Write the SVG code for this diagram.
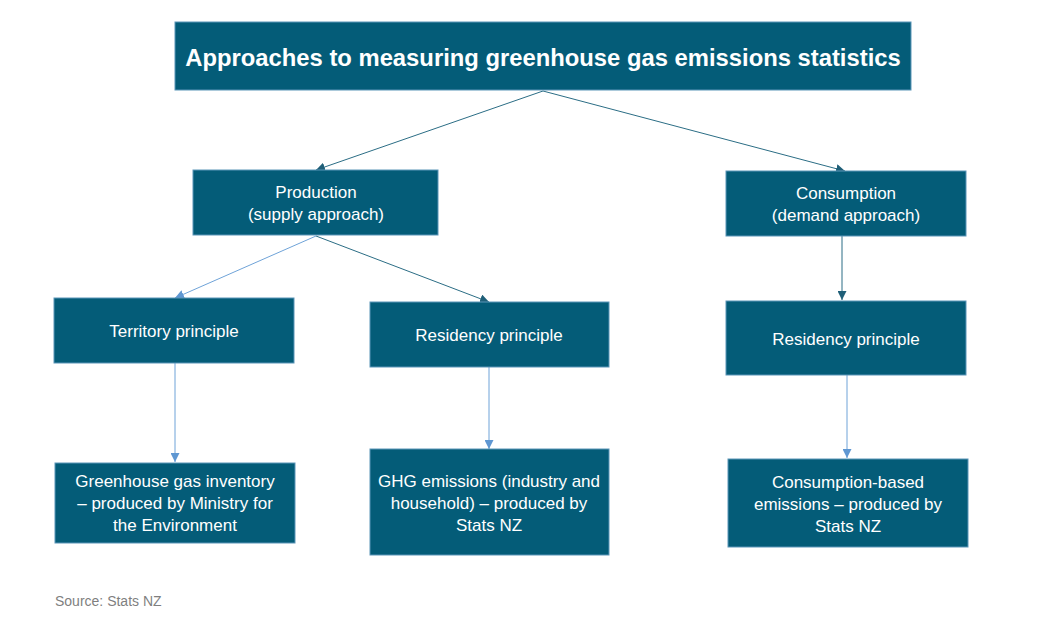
<svg xmlns="http://www.w3.org/2000/svg" width="1049" height="623" viewBox="0 0 1049 623">
<defs>
<style>
.box{fill:#045c78;stroke:#5b95b8;stroke-width:1}
.t{font-family:"Liberation Sans",Arial,sans-serif;font-size:17px;fill:#ffffff;text-anchor:middle;dominant-baseline:central}
.title{font-family:"Liberation Sans",Arial,sans-serif;font-size:23.8px;font-weight:bold;fill:#ffffff;text-anchor:middle;dominant-baseline:central}
.dk{stroke:#2b6d85;stroke-width:1;fill:none;marker-end:url(#ad)}
.lt{stroke:#6fa3d8;stroke-width:1;fill:none;marker-end:url(#al)}
</style>
<marker id="ad" viewBox="0 0 10 10" refX="10" refY="5" markerWidth="9" markerHeight="9" markerUnits="userSpaceOnUse" orient="auto"><path d="M0,0L10,5L0,10z" fill="#1f5f78"/></marker>
<marker id="al" viewBox="0 0 10 10" refX="10" refY="5" markerWidth="9" markerHeight="9" markerUnits="userSpaceOnUse" orient="auto"><path d="M0,0L10,5L0,10z" fill="#5f97d2"/></marker>
</defs>
<rect width="1049" height="623" fill="#ffffff"/>
<g id="connectors">
<line class="dk" x1="543" y1="91" x2="316" y2="170"/>
<line class="dk" x1="543" y1="91" x2="845" y2="171"/>
<line class="lt" x1="316" y1="236" x2="175" y2="298"/>
<line class="dk" x1="316" y1="236" x2="489" y2="302"/>
<line class="dk" x1="842" y1="236" x2="842" y2="300"/>
<line class="lt" x1="175" y1="363" x2="175" y2="462"/>
<line class="lt" x1="489" y1="367" x2="489" y2="449"/>
<line class="lt" x1="847" y1="375" x2="847" y2="458"/>
</g>
<g id="title"><rect class="box" x="175" y="22" width="736" height="68"/><text class="title" x="543" y="57">Approaches to measuring greenhouse gas emissions statistics</text></g>
<g id="production"><rect class="box" x="193" y="170" width="245" height="65"/><text class="t" x="316" y="192">Production</text><text class="t" x="316" y="214">(supply approach)</text></g>
<g id="consumption"><rect class="box" x="726" y="171" width="240" height="65"/><text class="t" x="846" y="193">Consumption</text><text class="t" x="846" y="215">(demand approach)</text></g>
<g id="territory"><rect class="box" x="54" y="298" width="240" height="65"/><text class="t" x="174" y="331">Territory principle</text></g>
<g id="residency-prod"><rect class="box" x="370" y="302" width="239" height="65"/><text class="t" x="489" y="335">Residency principle</text></g>
<g id="residency-cons"><rect class="box" x="726" y="301" width="240" height="74"/><text class="t" x="846" y="339">Residency principle</text></g>
<g id="inventory"><rect class="box" x="55" y="463" width="240" height="80"/><text class="t" x="175" y="481">Greenhouse gas inventory</text><text class="t" x="175" y="503">– produced by Ministry for</text><text class="t" x="175" y="525">the Environment</text></g>
<g id="ghg"><rect class="box" x="370" y="449" width="239" height="106"/><text class="t" x="489" y="481">GHG emissions (industry and</text><text class="t" x="489" y="503">household) – produced by</text><text class="t" x="489" y="525">Stats NZ</text></g>
<g id="consbased"><rect class="box" x="728" y="459" width="240" height="88"/><text class="t" x="848" y="482">Consumption-based</text><text class="t" x="848" y="504">emissions – produced by</text><text class="t" x="848" y="526">Stats NZ</text></g>
<text x="55" y="601" font-family="Liberation Sans,Arial,sans-serif" font-size="14px" fill="#7f7f7f" dominant-baseline="central">Source: Stats NZ</text>
</svg>
